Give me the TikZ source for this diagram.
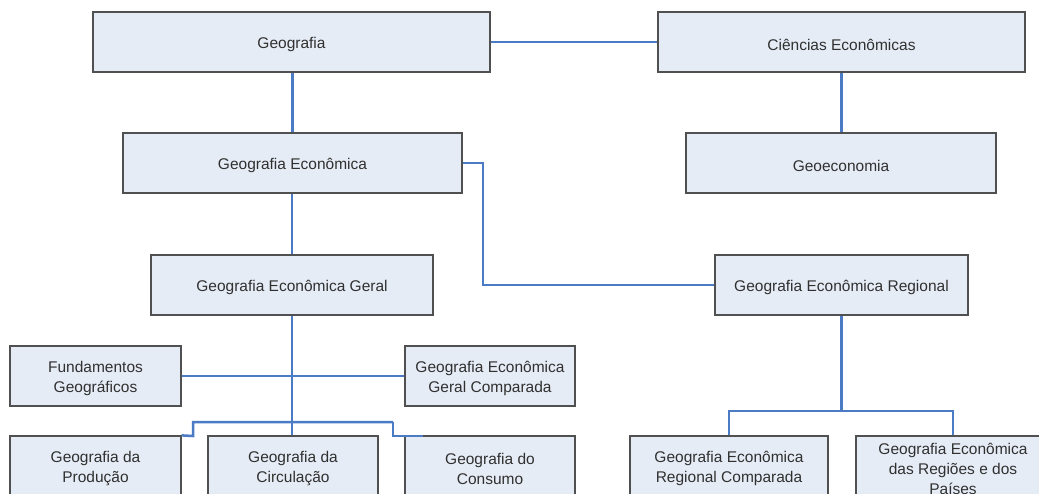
\documentclass[tikz,border=0pt]{standalone}
\usepackage{fontspec}
\setmainfont{Liberation Sans}
\definecolor{boxfill}{HTML}{E6ECF6}
\definecolor{boxline}{HTML}{505050}
\definecolor{linkblue}{HTML}{4A7BC4}
\definecolor{txt}{HTML}{303030}
\begin{document}
\begin{tikzpicture}[x=1pt,y=-1pt,
  box/.style={draw=boxline, fill=boxfill, line width=1.2pt, inner sep=0pt,
    minimum height=60pt},
  boxtext/.style={align=center, text=txt, inner sep=0pt, yshift=-2.5pt,
    font=\fontsize{15.5}{20}\selectfont},
  txt/.style={label={[boxtext]center:#1}},
  link/.style={draw=linkblue, line width=2.5pt}]
\useasboundingbox (0,0) rectangle (1039,494);
\clip (0,0) rectangle (1039,494);
\fill[white] (0,0) rectangle (1039,494);
% nodes
\node[box, minimum width=397pt, txt={Geografia}] (geo) at (291.5,42) {};
\node[box, minimum width=367pt, txt={Ciências Econômicas}] (cie) at (841.5,42) {};
\node[box, minimum width=339pt, txt={Geografia Econômica}] (geoeco) at (292.5,163) {};
\node[box, minimum width=310pt, txt={Geoeconomia}] (geoecon) at (841,163) {};
\node[box, minimum width=282pt, txt={Geografia Econômica Geral}] (geral) at (292,285) {};
\node[box, minimum width=253pt, txt={Geografia Econômica Regional}] (regional) at (841.5,285) {};
\node[box, minimum width=171pt, txt={Fundamentos\\Geográficos}] (fund) at (95.5,376) {};
\node[box, minimum width=170pt, txt={Geografia Econômica\\Geral Comparada}] (comp) at (490,376) {};
\node[box, minimum width=171pt, txt={Geografia da\\Produção}] (prod) at (95.5,466) {};
\node[box, minimum width=170pt, txt={Geografia da\\Circulação}] (circ) at (293,466) {};
\node[box, minimum width=170pt, txt={Geografia do\\Consumo}] (cons) at (490,466) {};
\node[box, minimum width=198pt, txt={Geografia Econômica\\Regional Comparada}] (regcomp) at (729,466) {};
\node[box, minimum width=194pt, txt={Geografia Econômica\\das Regiões e dos\\Países}] (regioes) at (953,466) {};
% helper coordinates
\coordinate (j1) at (483,163);
\coordinate (j2) at (483,285);
\coordinate (b1) at (193,422);
\coordinate (b2) at (193,436);
\coordinate (b3) at (393,422);
\coordinate (b4) at (393,436);
\coordinate (b5) at (423,436);
\coordinate (r1) at (841.5,411);
\coordinate (r2) at (729,411);
\coordinate (r3) at (953,411);
% connectors
\draw[link] (geo.east) -- (cie.west);
\draw[link] (geo.south -| geoeco.north) -- (geoeco.north);
\draw[link] (cie.south) -- (cie.south |- geoecon.north);
\draw[link] (geoeco.east) -- (j1) -- (j2) -- (regional.west);
\draw[link] (geoeco.south -| geral.north) -- (geral.north);
\draw[link] (geral.south) -- (geral.south |- circ.north);
\draw[link] (fund.east) -- (comp.west);
\draw[link] (b3) -- (b1) -- (b2) -- (prod.north east);
\draw[link] (b3) -- (b4) -- (b5);
\draw[link] (regional.south) -- (r1);
\draw[link] (r1) -- (r2) -- (regcomp.north);
\draw[link] (r1) -- (r3) -- (regioes.north);
\end{tikzpicture}
\end{document}
